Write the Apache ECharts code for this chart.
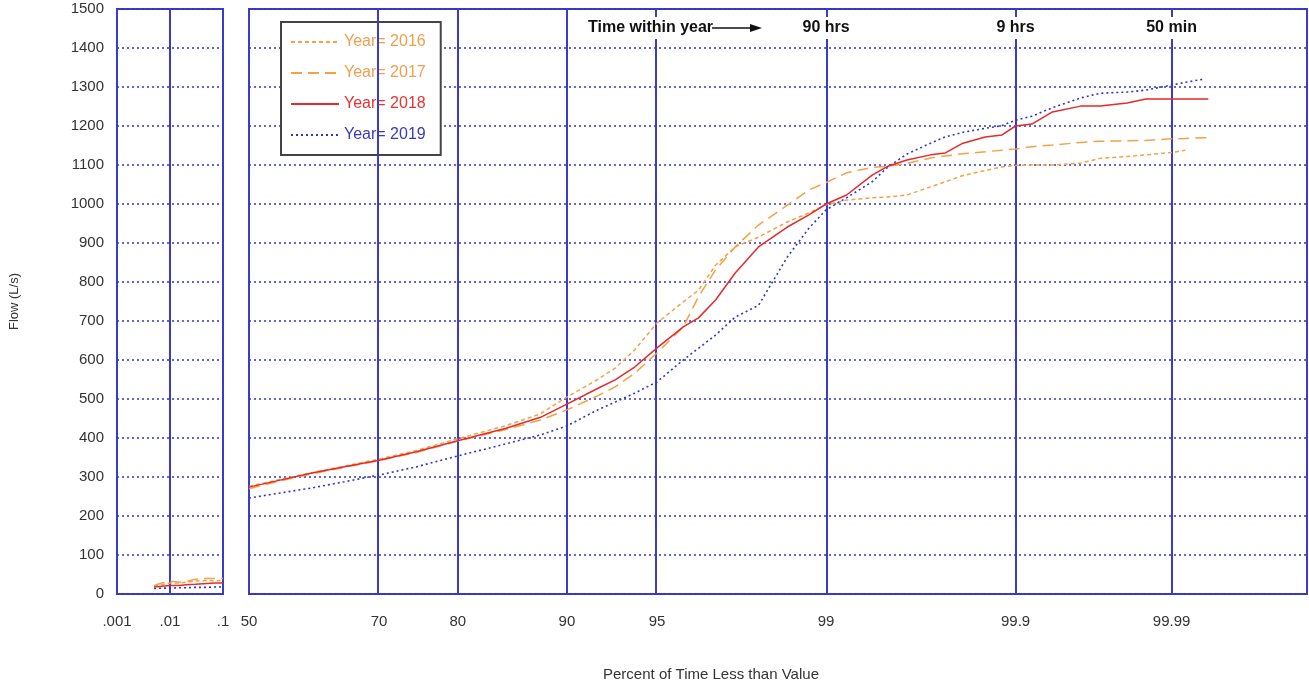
<!DOCTYPE html>
<html>
<head>
<meta charset="utf-8">
<script src="https://cdn.jsdelivr.net/npm/echarts@6/dist/echarts.min.js"></script>
<style>
html,body{margin:0;padding:0;background:#fff}
#chart{width:1309px;height:684px}
</style>
</head>
<body>
<div id="chart"></div>
<script>
// ---- data (percent of time less than value / flow L/s) ----
var pctLow = [0.005, 0.007, 0.01, 0.015, 0.02, 0.03, 0.05, 0.07, 0.1];
var low2016 = [20, 24, 28, 28, 30, 33, 35, 34, 35];
var low2017 = [22, 28, 33, 30, 32, 38, 40, 40, 40];
var low2018 = [18, 20, 22, 22, 24, 25, 27, 28, 28];
var low2019 = [14, 15, 15, 16, 16, 17, 17, 18, 18];

var pctMain = [50, 55, 60, 65, 70, 75, 80, 85, 88, 90, 92, 93, 94, 95, 96, 96.5, 97, 97.5, 98, 98.5, 98.8,
  99, 99.2, 99.4, 99.5, 99.6, 99.7, 99.75, 99.8, 99.85, 99.88, 99.9, 99.92, 99.94, 99.96, 99.97, 99.98,
  99.985, 99.99, 99.992, 99.994, 99.9945];
var flow2016 = [276, 294, 311, 328, 346, 368, 398, 432, 462, 505, 550, 579, 626, 695, 749, 779, 843, 890, 915, 954, 977,
  998, 1010, 1016, 1018, 1023, 1044, 1057, 1073, 1086, 1095, 1099, 1100, 1100, 1105, 1117, 1122,
  1126, 1132, 1138];
var flow2017 = [270, 290, 308, 325, 342, 363, 392, 422, 446, 472, 508, 531, 566, 618, 685, 762, 831, 890, 946, 997, 1036,
  1055, 1080, 1094, 1097, 1104, 1118, 1123, 1129, 1134, 1138, 1141, 1147, 1151, 1158, 1161, 1162,
  1163, 1167, 1168, 1170, 1170];
var flow2018 = [274, 292, 310, 326, 343, 365, 393, 425, 453, 487, 527, 549, 582, 631, 685, 708, 754, 823, 890, 941, 972,
  1000, 1023, 1074, 1097, 1113, 1126, 1131, 1156, 1172, 1177, 1200, 1205, 1236, 1251, 1251, 1259,
  1269, 1269, 1269, 1269, 1269];
var flow2019 = [246, 259, 272, 288, 305, 326, 354, 385, 408, 431, 472, 492, 515, 544, 600, 630, 664, 710, 740, 864, 938,
  985, 1016, 1057, 1095, 1128, 1156, 1172, 1184, 1194, 1201, 1215, 1225, 1247, 1272, 1284, 1287,
  1292, 1305, 1312, 1320];

var tickPct = [50, 70, 80, 90, 95, 99, 99.9, 99.99];
var tickText = ['50', '70', '80', '90', '95', '99', '99.9', '99.99'];
var timePct = [99, 99.9, 99.99];
var timeText = ['90 hrs', '9 hrs', '50 min'];

var names = ['Year= 2016', 'Year= 2017', 'Year= 2018', 'Year= 2019'];
var colors = ['#F4A245', '#F4A245', '#E52A2A', '#3434C4'];
var textColors = ['#EFA04C', '#EFA04C', '#E23434', '#3A3AB8'];
var dashes = [[4, 3], [11, 6], 'solid', [2, 3]];

// inverse normal cdf (probability paper scale)
function probit(p) {
  var a = [-39.69683028665376, 220.9460984245205, -275.9285104469687, 138.3577518672690, -30.66479806614716, 2.506628277459239];
  var b = [-54.47609879822406, 161.5858368580409, -155.6989798598866, 66.80131188771972, -13.28068155288572];
  var c = [-0.007784894002430293, -0.3223964580411365, -2.400758277161838, -2.549732539343734, 4.374664141464968, 2.938163982698783];
  var d = [0.007784695709041462, 0.3224671290700398, 2.445134137142996, 3.754408661907416];
  var pl = 0.02425, q, r;
  if (p < pl) {
    q = Math.sqrt(-2 * Math.log(p));
    return (((((c[0]*q+c[1])*q+c[2])*q+c[3])*q+c[4])*q+c[5]) / ((((d[0]*q+d[1])*q+d[2])*q+d[3])*q+1);
  }
  if (p > 1 - pl) {
    q = Math.sqrt(-2 * Math.log(1 - p));
    return -(((((c[0]*q+c[1])*q+c[2])*q+c[3])*q+c[4])*q+c[5]) / ((((d[0]*q+d[1])*q+d[2])*q+d[3])*q+1);
  }
  q = p - 0.5; r = q * q;
  return (((((a[0]*r+a[1])*r+a[2])*r+a[3])*r+a[4])*r+a[5])*q / (((((b[0]*r+b[1])*r+b[2])*r+b[3])*r+b[4])*r+1);
}
function z(pct) { return probit(pct / 100); }

function pairs(xs, ys, fn) {
  var out = [];
  for (var i = 0; i < ys.length; i++) out.push([fn ? fn(xs[i]) : xs[i], ys[i]]);
  return out;
}

var FONT = 'Liberation Sans, Arial, sans-serif';
var BLUE = '#3a3acc';
var lowData = [low2016, low2017, low2018, low2019];
var mainData = [flow2016, flow2017, flow2018, flow2019];
var tickZ = tickPct.map(z);

var series = [];
for (var k = 0; k < 4; k++) {
  var ls = { color: colors[k], width: k == 3 ? 1.6 : 1.5, type: dashes[k] };
  series.push({
    name: names[k], type: 'line', xAxisIndex: 0, yAxisIndex: 0, symbol: 'none',
    itemStyle: { color: colors[k] }, lineStyle: ls, z: k == 2 ? 6 : 5,
    data: pairs(pctLow, lowData[k])
  });
  series.push({
    name: names[k], type: 'line', xAxisIndex: 1, yAxisIndex: 1, symbol: 'none',
    itemStyle: { color: colors[k] }, lineStyle: ls, z: k == 2 ? 6 : 5,
    data: pairs(pctMain, mainData[k], z)
  });
}
// vertical probability grid lines
series.push({
  name: 'grid', type: 'line', xAxisIndex: 1, yAxisIndex: 1, data: [], z: 1, silent: true,
  markLine: {
    silent: true, symbol: ['none', 'none'], animation: false,
    label: { show: false },
    lineStyle: { color: BLUE, width: 2, type: 'solid' },
    data: tickZ.slice(1).map(function (v) { return { xAxis: v }; })
  }
});

var yAxisBase = {
  type: 'value', min: 0, max: 1500, interval: 100,
  axisLine: { show: false }, axisTick: { show: false },
  splitLine: { show: true, lineStyle: { color: '#3434c0', width: 1.5, type: [2, 3] } }
};

var dom = document.getElementById('chart');
var myChart = echarts.init(dom);
var option = {
  animation: false,
  backgroundColor: '#fff',
  textStyle: { fontFamily: FONT },
  grid: [
    { left: 117, width: 106, top: 9, bottom: 90, show: true, borderColor: BLUE, borderWidth: 2 },
    { left: 249, right: 2, top: 9, bottom: 90, show: true, borderColor: BLUE, borderWidth: 2 }
  ],
  xAxis: [
    {
      gridIndex: 0, type: 'log', logBase: 10, min: 0.001, max: 0.1,
      axisLine: { show: false }, axisTick: { show: false },
      splitLine: { show: true, lineStyle: { color: BLUE, width: 2 } },
      axisLabel: {
        color: '#333', fontSize: 15, margin: 20, fontFamily: FONT,
        formatter: function (v) { return String(+v.toPrecision(3)).replace('0.', '.'); }
      }
    },
    {
      gridIndex: 1, type: 'value', min: 0, max: 4.265,
      axisLine: { show: false }, axisTick: { show: false }, splitLine: { show: false },
      axisLabel: {
        color: '#333', fontSize: 15, margin: 20, fontFamily: FONT,
        customValues: tickZ,
        formatter: function (v) {
          var best = 0;
          for (var i = 0; i < tickZ.length; i++) if (Math.abs(tickZ[i] - v) < Math.abs(tickZ[best] - v)) best = i;
          return tickText[best];
        }
      }
    }
  ],
  yAxis: [
    Object.assign({}, yAxisBase, {
      gridIndex: 0,
      axisLabel: { color: '#333', fontSize: 15, margin: 13, fontFamily: FONT, formatter: function (v) { return String(v); } },
      name: 'Flow (L/s)', nameLocation: 'middle', nameGap: 96, nameRotate: 90,
      nameTextStyle: { color: '#333', fontSize: 13, fontFamily: FONT }
    }),
    Object.assign({}, yAxisBase, { gridIndex: 1, axisLabel: { show: false } })
  ],
  legend: {
    orient: 'vertical', left: 281, top: 22,
    itemWidth: 48, itemHeight: 14, itemGap: 15,
    padding: [12, 15, 12, 9],
    backgroundColor: '#fff', borderColor: '#444', borderWidth: 2,
    itemStyle: { opacity: 0 },
    textStyle: { fontSize: 16, fontFamily: FONT },
    data: names.map(function (n, i) { return { name: n, textStyle: { color: textColors[i] } }; })
  },
  series: series
};
myChart.setOption(option);

// labels on top of the main panel, placed through the axis scale
var gfx = [];
timePct.forEach(function (p, i) {
  var px = myChart.convertToPixel({ gridIndex: 1 }, [z(p), 1500]);
  gfx.push({
    type: 'text', x: px[0], y: 28, z: 100,
    style: {
      text: timeText[i], fill: '#111', font: 'bold 16px ' + FONT, align: 'center', verticalAlign: 'middle',
      backgroundColor: '#fff', padding: [3, 2]
    }
  });
});
gfx.push({
  type: 'text', x: 586, y: 28, z: 100,
  style: {
    text: 'Time within year', fill: '#111', font: 'bold 16px ' + FONT, align: 'left', verticalAlign: 'middle',
    backgroundColor: '#fff', padding: [3, 2]
  }
});
gfx.push({ type: 'line', z: 100, shape: { x1: 712, y1: 28, x2: 752, y2: 28 }, style: { stroke: '#111', lineWidth: 1.5 } });
gfx.push({ type: 'polygon', z: 100, shape: { points: [[762, 28], [750, 24], [750, 32]] }, style: { fill: '#111' } });
gfx.push({
  type: 'text', x: 711, y: 675,
  style: { text: 'Percent of Time Less than Value', fill: '#333', font: '15px ' + FONT, align: 'center', verticalAlign: 'middle' }
});
myChart.setOption({ graphic: gfx });
</script>
</body>
</html>
